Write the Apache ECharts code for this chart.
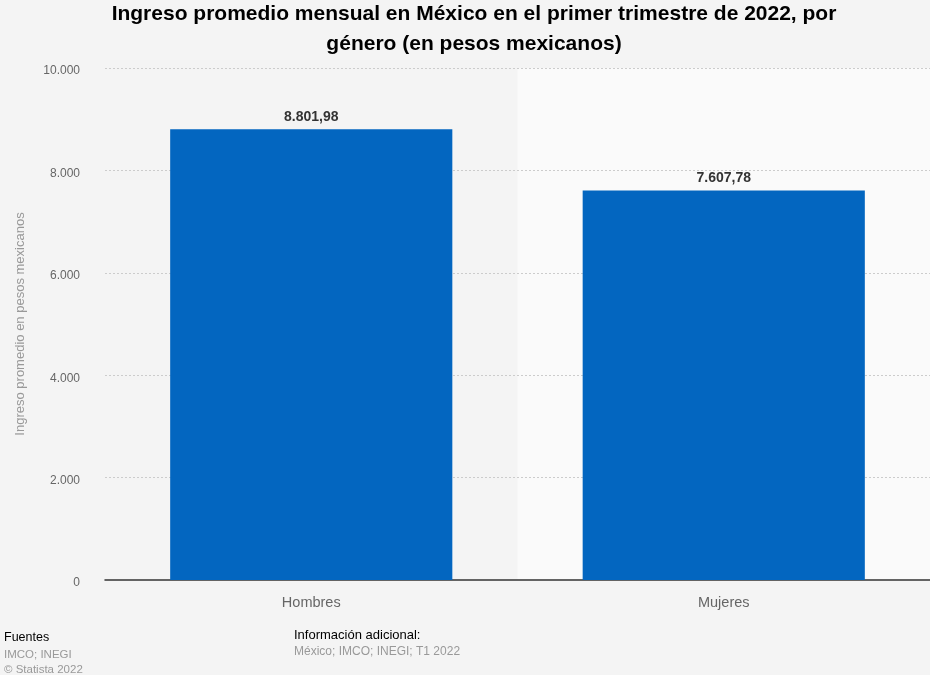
<!DOCTYPE html>
<html><head><meta charset="utf-8">
<script src="https://cdn.jsdelivr.net/npm/echarts@6/dist/echarts.min.js"></script>
<style>html,body{margin:0;padding:0;background:#f4f4f4}#c{width:930px;height:675px}</style>
</head><body><div id="c"></div>
<script>
var categories = ['Hombres', 'Mujeres'];
var values = [8801.98, 7607.78];
var yTicks = [0, 2000, 4000, 6000, 8000, 10000];

function fmtInt(v){ return String(Math.round(v)).replace(/\B(?=(\d{3})+(?!\d))/g, '.'); }
function fmtDec(v){ var p = v.toFixed(2).split('.'); return p[0].replace(/\B(?=(\d{3})+(?!\d))/g, '.') + ',' + p[1]; }

var chart = echarts.init(document.getElementById('c'), null, {renderer:'canvas'});
chart.setOption({
  backgroundColor: '#f4f4f4',
  textStyle: {fontFamily: 'Liberation Sans, Arial, sans-serif'},
  title: {
    text: 'Ingreso promedio mensual en México en el primer trimestre de 2022, por\ngénero (en pesos mexicanos)',
    left: 469, top: -6, textAlign: 'center',
    textStyle: {fontSize: 21, fontWeight: 'bold', color: '#000', lineHeight: 30, fontFamily: 'Liberation Sans, Arial, sans-serif'}
  },
  grid: {left: 105, right: 0, top: 68, bottom: 95},
  xAxis: {
    type: 'category', data: categories, z: 0,
    axisLine: {lineStyle: {color: '#333', width: 1.5}},
    axisTick: {show: false},
    axisLabel: {fontSize: 14.5, color: '#666', margin: 15},
    splitArea: {show: true, areaStyle: {color: ['rgba(0,0,0,0)', '#fafafa']}}
  },
  yAxis: {
    type: 'value', min: yTicks[0], max: yTicks[yTicks.length-1], interval: 2000, z: 1,
    name: 'Ingreso promedio en pesos mexicanos', nameLocation: 'middle', nameGap: 78,
    nameTextStyle: {fontSize: 13, color: '#999'},
    axisLine: {show: false}, axisTick: {show: false},
    axisLabel: {margin: 25, formatter: function(v){ return '{a|' + fmtInt(v) + '}'; },
      rich: {a: {fontSize: 12, color: '#666', padding: [6, 0, 0, 0]}}},
    splitLine: {showMinLine: false, lineStyle: {color: '#ccc', type: [2, 2], width: 1}}
  },
  series: [{
    type: 'bar', data: values, barWidth: '68.4%', z: 2,
    itemStyle: {color: '#0366c0'},
    label: {show: true, position: 'top', distance: 5, fontSize: 14, fontWeight: 'bold', color: '#333', formatter: function(p){return fmtDec(p.value);}}
  }],
  graphic: [
    {type:'text', left: 4, top: 631, style:{text:'Fuentes', fill:'#000', font:'12.5px Liberation Sans'}},
    {type:'text', left: 4, top: 649, style:{text:'IMCO; INEGI', fill:'#999', font:'11.5px Liberation Sans'}},
    {type:'text', left: 4, top: 664, style:{text:'© Statista 2022', fill:'#999', font:'11.5px Liberation Sans'}},
    {type:'text', left: 294, top: 629, style:{text:'Información adicional:', fill:'#000', font:'13px Liberation Sans'}},
    {type:'text', left: 294, top: 646, style:{text:'México; IMCO; INEGI; T1 2022', fill:'#999', font:'12px Liberation Sans'}}
  ]
});
</script></body></html>
